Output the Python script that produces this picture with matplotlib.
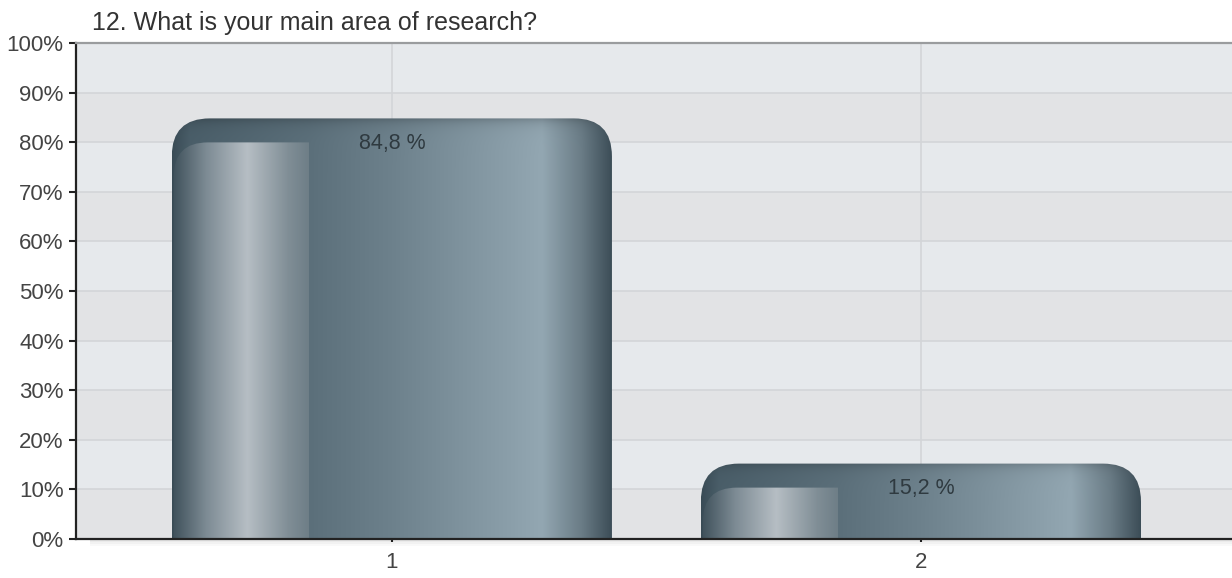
import numpy as np
import matplotlib
matplotlib.use("Agg")
import matplotlib.pyplot as plt
from matplotlib.patches import FancyBboxPatch, Rectangle
from matplotlib.colors import to_rgb

plt.rcParams["font.family"] = ["Liberation Sans", "DejaVu Sans"]

# data
categories = ["1", "2"]
values = [84.8, 15.2]
value_labels = ["84,8 %", "15,2 %"]
title = "12. What is your main area of research?"

# figure geometry
W, H, DPI = 1232, 578, 100
fig = plt.figure(figsize=(W / DPI, H / DPI), dpi=DPI)
ax = fig.add_axes([76 / W, (H - 539) / H, 1 - 76 / W, (539 - 43) / H])

xpos = np.arange(1, len(categories) + 1)
x0, x1 = 0.403, 2.588
ax.set_xlim(x0, x1)
ax.set_ylim(0, 100)

px_x = W * (1 - 76 / W) / (x1 - x0)   # pixels per x unit
px_y = (539 - 43) / 100.0             # pixels per percent

# background bands and grid
for k in range(10):
    col = "#e2e3e5" if k % 2 == 0 else "#e6e9ec"
    ax.axhspan(k * 10, k * 10 + 10, color=col, zorder=0, lw=0)
for k in range(1, 10):
    ax.axhline(k * 10, color="#d3d5d8", lw=1.2, zorder=1)
for x in xpos:
    ax.axvline(x, color="#d3d5d8", lw=1.2, zorder=1)


def gradient(stops, n=400):
    pos = [s[0] for s in stops]
    cols = np.array([to_rgb(s[1]) for s in stops])
    t = np.linspace(0, 1, n)
    return np.stack([np.interp(t, pos, cols[:, i]) for i in range(3)], axis=-1)


main_stops = [(0.0, "#3a4c56"), (0.04, "#4a5e69"), (0.31, "#5b6f7a"),
              (0.5, "#6d818c"), (0.84, "#93a7b2"), (0.93, "#6a7c86"),
              (1.0, "#3b4c56")]
inner_stops = [(0.0, "#3d4f59"), (0.25, "#7d8b94"), (0.55, "#b6bec4"),
               (0.85, "#808e96"), (1.0, "#6e7e87")]

bar_w = 0.832
rad_px = 38
inner_drop_px = 24

for x, v, lab in zip(xpos, values, value_labels):
    left = x - bar_w / 2
    # main body gradient with a slight darkening near the top
    ny = 200
    g = gradient(main_stops)
    ys = np.linspace(v, 0, ny)
    dist = (v - ys) * px_y
    shade = 1 - 0.18 * np.exp(-dist / 6.0)
    img = g[None, :, :] * shade[:, None, None]
    im = ax.imshow(img, extent=[left, left + bar_w, 0, v], aspect="auto",
                   zorder=3, interpolation="bilinear")
    clip = FancyBboxPatch((left, -30), bar_w, v + 30,
                          boxstyle=f"round,pad=0,rounding_size={rad_px / px_x}",
                          mutation_aspect=px_x / px_y,
                          transform=ax.transData, fc="none", ec="none")
    ax.add_patch(clip)
    im.set_clip_path(clip)

    # inner highlight panel on the left
    iv = v - inner_drop_px / px_y
    iw = 0.31 * bar_w
    ig = gradient(inner_stops)
    im2 = ax.imshow(ig[None, :, :], extent=[left, left + iw, 0, iv],
                    aspect="auto", zorder=4, interpolation="bilinear")
    clip2 = FancyBboxPatch((left + 2 / px_x, -30), 2.2 * iw, iv + 30,
                           boxstyle=f"round,pad=0,rounding_size={34 / px_x}",
                           mutation_aspect=px_x / px_y,
                           transform=ax.transData, fc="none", ec="none")
    ax.add_patch(clip2)
    im2.set_clip_path(clip2)

    ax.text(x, v - 25 / px_y, lab, ha="center", va="center",
            fontsize=15.5, color="#2f3a40", zorder=6)

ax.set_xlim(x0, x1)
ax.set_ylim(0, 100)

# axes styling
ax.set_yticks(np.arange(0, 101, 10))
ax.set_yticklabels([f"{t}%" for t in range(0, 101, 10)])
ax.set_xticks(xpos)
ax.set_xticklabels(categories)
ax.tick_params(axis="y", length=5, width=1.5, color="#222222",
               labelsize=16, labelcolor="#444444", pad=4)
ax.tick_params(axis="x", length=5, width=1.5, color="#222222",
               labelsize=16, labelcolor="#444444", pad=7, direction="inout")
ax.spines["right"].set_visible(False)
ax.spines["left"].set_color("#222222")
ax.spines["left"].set_linewidth(1.6)
ax.spines["bottom"].set_color("#222222")
ax.spines["bottom"].set_linewidth(1.6)
ax.spines["bottom"].set_zorder(7)
ax.spines["top"].set_color("#9a9c9e")
ax.spines["top"].set_linewidth(1.6)

# faint shadow under the x axis
for i, a in enumerate([0.08, 0.05, 0.025]):
    fig.add_artist(Rectangle((90 / W, (H - 542 - i * 2) / H),
                             1, 2 / H, transform=fig.transFigure,
                             color="#000000", alpha=a, lw=0))

fig.text(92 / W, 1 - 30 / H, title, ha="left", va="baseline",
         fontsize=18, color="#333333")

fig.savefig("out.png", dpi=DPI)
